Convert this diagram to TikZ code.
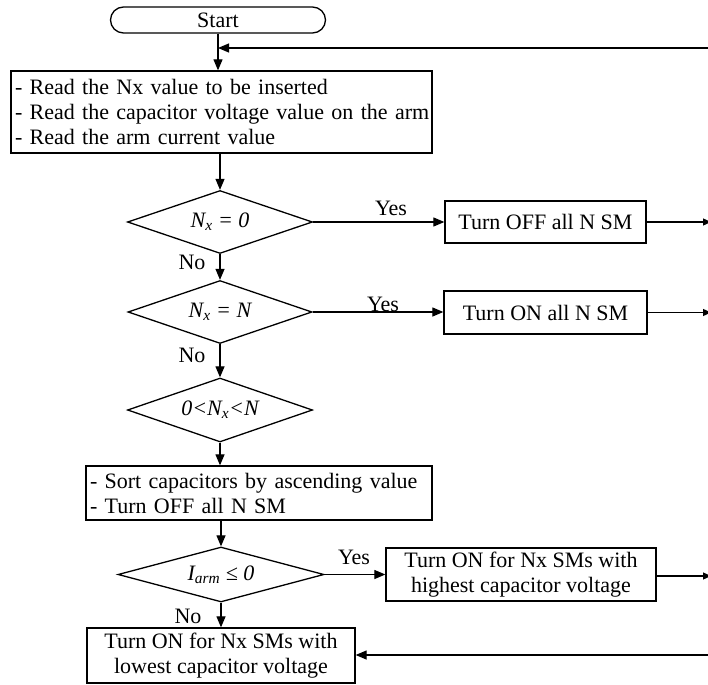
\documentclass[tikz,border=0pt]{standalone}
\usepackage{fontspec}
\setmainfont{Liberation Serif}
\usetikzlibrary{shapes.geometric,arrows.meta}
\tikzset{
  base/.style={font=\fontsize{22}{25}\selectfont},
  proc/.style={base,draw,line width=1.3pt,rectangle,inner sep=3pt,align=center},
  leftproc/.style={base,draw,line width=1.3pt,rectangle,inner sep=3pt,align=left},
  term/.style={base,draw,line width=1.3pt,rectangle,rounded corners=13pt,inner sep=0pt},
  dec/.style={base,draw,line width=1.3pt,diamond,inner sep=0pt,font=\fontsize{22}{25}\selectfont\itshape},
  lbl/.style={base,inner sep=0pt},
  flow/.style={line width=1.2pt,-{Triangle[length=11pt,width=9pt]}},
  edgeflow/.style={line width=1.2pt,-{Triangle[length=8pt,width=7pt]}},
}
\begin{document}
\begin{tikzpicture}[x=1pt,y=-1pt]
\useasboundingbox (0,0) rectangle (708,684);

\node[term,minimum width=215pt,minimum height=26pt] (start) at (218,20) {Start};
\node[leftproc,minimum width=421pt,minimum height=82pt,text width=413pt] (read) at (221.5,112)
  {\mbox{- Read the Nx value to be inserted}\\\mbox{- Read the capacitor voltage value on the arm}\\\mbox{- Read the arm current value}};

\node[dec,minimum width=185pt,minimum height=63pt,shape aspect=2.9] (d1) at (220,222) {N\textsubscript{x} = 0};
\node[proc,minimum width=201pt,minimum height=42pt] (off) at (545.5,222) {Turn OFF all N SM};

\node[dec,minimum width=184pt,minimum height=63pt,shape aspect=2.9] (d2) at (220,312) {N\textsubscript{x} = N};
\node[proc,minimum width=203pt,minimum height=43pt] (on) at (545.5,312.5) {Turn ON all N SM};

\node[dec,minimum width=185pt,minimum height=64pt,shape aspect=2.9] (d3) at (220,410) {0<N\textsubscript{x}<N};

\node[leftproc,minimum width=346pt,minimum height=54pt,text width=338pt] (sort) at (259,493)
  {\mbox{- Sort capacitors by ascending value}\\\mbox{- Turn OFF all N SM}};

\node[dec,minimum width=206pt,minimum height=55pt,shape aspect=3.75] (d4) at (221,574.5) {I\textsubscript{arm} ≤ 0};
\node[proc,minimum width=270pt,minimum height=53pt] (high) at (521,574.5) {Turn ON for Nx SMs with\\highest capacitor voltage};

\node[proc,minimum width=268pt,minimum height=55pt] (low) at (221,655.5) {Turn ON for Nx SMs with\\lowest capacitor voltage};

% labels
\node[lbl] (y1) at (391,208) {Yes};
\node[lbl] (y2) at (383,304) {Yes};
\node[lbl] (y3) at (354,557) {Yes};
\node[lbl] (n1) at (192,262) {No};
\node[lbl] (n2) at (192,355) {No};
\node[lbl] (n3) at (188,616) {No};

% edge coordinates
\coordinate (fbtop) at (712,48);
\coordinate (e1) at (711,222);
\coordinate (e2) at (711,312.5);
\coordinate (e3) at (711,576);
\coordinate (fbbot) at (712,655);

% connectors
\draw[flow] (start.south) -- (start.south |- read.north);
\draw[flow] (fbtop) -- (start.south |- fbtop);
\draw[flow] (read.south -| d1.north) -- (d1.north);
\draw[flow] (d1.east) -- (off.west);
\draw[edgeflow] (off.east) -- (e1);
\draw[flow] (d1.south) -- (d2.north);
\draw[flow] (d2.east) -- (d2.east -| on.west);
\draw[edgeflow] (on.east) -- (e2);
\draw[flow] (d2.south) -- (d3.north);
\draw[flow] (d3.south) -- (d3.south |- sort.north);
\draw[flow] (sort.south -| d4.north) -- (d4.north);
\draw[flow] (d4.east) -- (high.west);
\draw[edgeflow] (high.east |- e3) -- (e3);
\draw[flow] (d4.south) -- (low.north);
\draw[flow] (fbbot) -- (low.east |- fbbot);
\end{tikzpicture}
\end{document}
